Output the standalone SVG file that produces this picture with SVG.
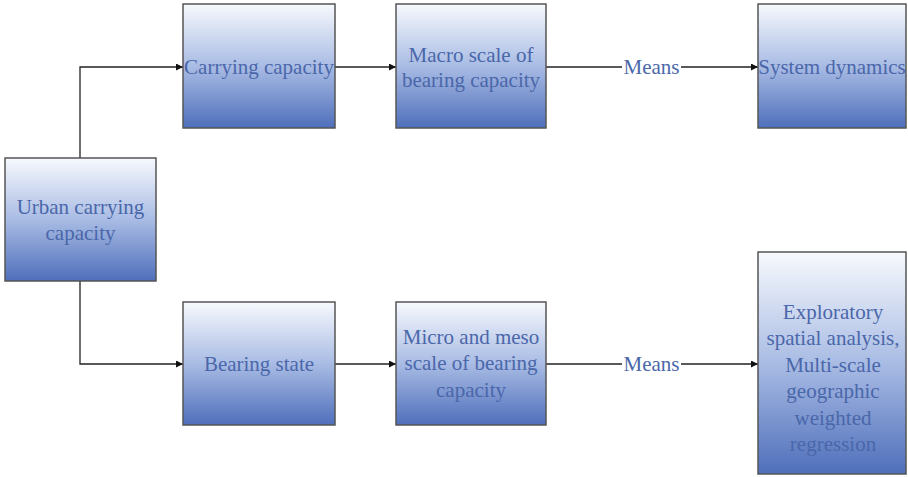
<svg xmlns="http://www.w3.org/2000/svg" width="908" height="477" viewBox="0 0 908 477">
<defs>
<linearGradient id="g" x1="0" y1="0" x2="0" y2="1">
<stop offset="0" stop-color="#f7f9fd"/>
<stop offset="0.5" stop-color="#a9bce4"/>
<stop offset="1" stop-color="#4f6fbb"/>
</linearGradient>
<marker id="a" viewBox="0 0 10 10" refX="10" refY="5" markerWidth="7" markerHeight="7" markerUnits="userSpaceOnUse" orient="auto">
<path d="M0,0 L10,5 L0,10 z" fill="#111"/>
</marker>
<style>
.box{fill:url(#g);stroke:#555;stroke-width:1.5}
.t{font-size:21px;fill:#4a67aa;text-anchor:middle}
.c{fill:none;stroke:#222;stroke-width:1.3}
</style>
</defs>
<rect width="908" height="477" fill="#fff"/>
<g font-family="Liberation Serif, DejaVu Serif, serif">
<g id="connectors">
<path class="c" d="M80,158 V67 H183" marker-end="url(#a)"/>
<path class="c" d="M80,281 V364 H183" marker-end="url(#a)"/>
<path class="c" d="M335,67 H396" marker-end="url(#a)"/>
<path class="c" d="M335,364 H396" marker-end="url(#a)"/>
<path class="c" d="M546,67 H622"/>
<path class="c" d="M681,67 H758" marker-end="url(#a)"/>
<path class="c" d="M546,364 H622"/>
<path class="c" d="M681,364 H758" marker-end="url(#a)"/>
<text class="t" x="651.5" y="74">Means</text>
<text class="t" x="651.5" y="371">Means</text>
</g>
<g id="urban">
<rect class="box" x="5" y="158" width="151" height="123"/>
<text class="t" x="80.5" y="214">Urban carrying</text>
<text class="t" x="80.5" y="240">capacity</text>
</g>
<g id="carrying">
<rect class="box" x="183" y="4" width="152" height="124"/>
<text class="t" x="259" y="74">Carrying capacity</text>
</g>
<g id="macro">
<rect class="box" x="396" y="4" width="150" height="124"/>
<text class="t" x="471" y="62">Macro scale of</text>
<text class="t" x="471" y="87">bearing capacity</text>
</g>
<g id="sysdyn">
<rect class="box" x="758" y="4" width="148" height="124"/>
<text class="t" x="832" y="74">System dynamics</text>
</g>
<g id="bearing">
<rect class="box" x="183" y="302" width="152" height="123"/>
<text class="t" x="259" y="371">Bearing state</text>
</g>
<g id="micro">
<rect class="box" x="396" y="302" width="150" height="123"/>
<text class="t" x="471" y="344">Micro and meso</text>
<text class="t" x="471" y="370">scale of bearing</text>
<text class="t" x="471" y="397">capacity</text>
</g>
<g id="explore">
<rect class="box" x="758" y="252" width="148" height="222"/>
<text class="t" x="833" y="319">Exploratory</text>
<text class="t" x="833" y="345">spatial analysis,</text>
<text class="t" x="833" y="372">Multi-scale</text>
<text class="t" x="833" y="398">geographic</text>
<text class="t" x="833" y="425">weighted</text>
<text class="t" x="833" y="451">regression</text>
</g>
</g>
</svg>
